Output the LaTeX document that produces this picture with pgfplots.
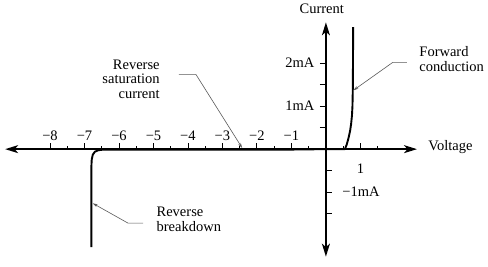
\documentclass[border=0pt]{standalone}
\usepackage{fontspec}
\setmainfont{Liberation Serif}
\usepackage{pgfplots}
\pgfplotsset{compat=1.18}
\usetikzlibrary{arrows.meta}

% Diode characteristic: forward branch and reverse branch (current in mA)
\pgfplotstableread{
V I
-6.80 -2.28
-6.80 -0.40
-6.79 -0.24
-6.76 -0.13
-6.70 -0.06
-6.60 -0.025
-6.45 -0.01
-5.00 -0.01
-3.00 -0.01
-1.00 -0.01
0.00 0.00
0.55 0.00
0.60 0.10
0.65 0.24
0.70 0.42
0.73 0.58
0.755 0.78
0.77 1.00
0.78 1.40
0.785 2.00
0.79 2.84
}\diodecurve

\begin{document}
\begin{tikzpicture}[font=\fontsize{14.5bp}{14.5bp}\selectfont]
\begin{axis}[
  x=34.5bp, y=43bp,
  xmin=-9.3, xmax=2.64, ymin=-2.5, ymax=2.95,
  axis x line=middle, axis y line=middle,
  axis line style={line width=1.4bp,
    {Stealth[length=13bp,width=8bp,inset=3.5bp]}-{Stealth[length=13bp,width=8bp,inset=3.5bp]}},
  clip=false,
  tick align=inside,
  tick style={line width=0.9bp, black},
  major tick length=6bp, minor tick length=3.5bp,
  % horizontal ticks point upwards, numbers above the line
  xtick={-8,-7,-6,-5,-4,-3,-2,-1},
  xticklabels={−8,−7,−6,−5,−4,−3,−2,−1},
  minor xtick={-7.5,-6.5,-5.5,-4.5,-3.5,-2.5,-1.5,-0.5,0.5,1.5},
  xticklabel style={anchor=south, yshift=5bp},
  extra x ticks={1},
  extra x tick labels={1},
  extra x tick style={xticklabel style={anchor=north, yshift=-16bp}},
  % negative currents: ticks and label to the right
  ytick={-1.5,-1,-0.5},
  yticklabels={,−1mA,},
  yticklabel style={anchor=west, xshift=13bp},
  % positive currents: ticks and labels to the left
  extra y ticks={0.5,1,1.5,2},
  extra y tick labels={,1mA,,2mA},
  extra y tick style={tick align=outside,
    yticklabel style={anchor=east, xshift=-15bp}},
]
\addplot[black, line width=1.9bp, line join=round] table[x=V, y=I] {\diodecurve};

% axis names
\node[anchor=west] at (axis cs:2.87,0.05) {Voltage};
\node at (axis cs:-0.12,3.27) {Current};

% callouts
\node[anchor=east, align=right] at (axis cs:-4.72,1.63) {Reverse\\saturation\\current};
\draw[gray!70!black, line width=0.6bp, -{Stealth[length=5bp,width=3bp]}]
  (axis cs:-4.26,1.74) -- (axis cs:-3.77,1.74) -- (axis cs:-2.43,0.03);

\node[anchor=west, align=left] at (axis cs:2.61,2.10) {Forward\\conduction};
\draw[gray!70!black, line width=0.6bp, -{Stealth[length=5bp,width=3bp]}]
  (axis cs:2.35,2.02) -- (axis cs:1.94,2.02) -- (axis cs:0.80,1.37);

\node[anchor=west, align=left] at (axis cs:-5.01,-1.63) {Reverse\\breakdown};
\draw[gray!70!black, line width=0.6bp, -{Stealth[length=5bp,width=3bp]}]
  (axis cs:-5.30,-1.72) -- (axis cs:-5.74,-1.72) -- (axis cs:-6.76,-1.26);

% page extent
\path (axis cs:-9.45,3.47) rectangle (axis cs:4.70,-2.74);
\end{axis}
\end{tikzpicture}
\end{document}
